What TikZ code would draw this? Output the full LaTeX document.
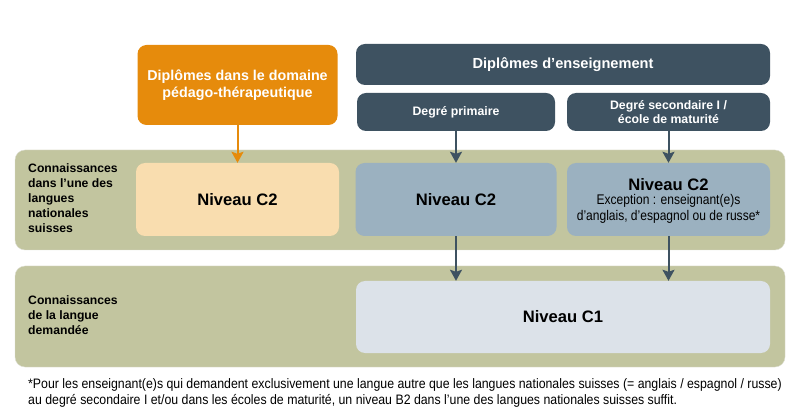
\documentclass[tikz,border=0pt]{standalone}
\usepackage{fontspec}
\setmainfont{Liberation Sans}
\newfontfamily\narrowfont[FakeStretch=0.86]{Liberation Sans}
\newfontfamily\footfont[FakeStretch=0.9]{Liberation Sans}
\usetikzlibrary{arrows.meta}

\definecolor{orangeD}{HTML}{E68B0C}
\definecolor{orangeL}{HTML}{F9DDAF}
\definecolor{slate}{HTML}{3E5261}
\definecolor{bandgreen}{HTML}{C2C59F}
\definecolor{blueM}{HTML}{9BB1C0}
\definecolor{blueL}{HTML}{DCE2E9}

\tikzset{
	box/.style={rounded corners=9pt, align=center, inner sep=0pt},
	headbox/.style={box, fill=slate, text=white, font=\bfseries\fontsize{12.3}{14.5}\selectfont},
	levelbox/.style={box, minimum height=73pt, font=\bfseries\fontsize{16.6}{18}\selectfont},
	band/.style={rounded corners=10pt, fill=bandgreen, draw=bandgreen!85!black!40!white, minimum width=770pt},
	sidelabel/.style={anchor=north west, align=left, inner sep=0pt, font=\bfseries\fontsize{12.2}{15}\selectfont},
	arr/.style={-{Stealth[width=12pt,length=11pt,inset=2pt]}, line width=2pt}
}

\begin{document}
\begin{tikzpicture}[x=1pt,y=-1pt]
	
	\useasboundingbox (0,0) rectangle (800,419);
	
	% Bands
	\node[band, minimum height=100pt] (band1) at (400,200) {};
	\node[band, minimum height=101pt] (band2) at (400,316.5) {};
	
	% Diplomas
	\node[box,
	fill=orangeD,
	text=white,
	minimum width=200pt,
	minimum height=80pt,
	font=\bfseries\fontsize{14.3}{17}\selectfont] (dipped) at (237.5,85) {Diplômes dans le domaine\\pédago-thérapeutique};
	\node[headbox, minimum width=414pt, minimum height=41pt, font=\bfseries\fontsize{14.6}{16}\selectfont] (dipens) at (563,64.5) {Diplômes d’enseignement};
	\node[headbox, minimum width=198pt, minimum height=38pt] (prim) at (456,112) {Degré primaire};
	\node[headbox, minimum width=203pt, minimum height=38pt] (sec) at (668.5,112) {Degré secondaire I /\\école de maturité};
	
	% Levels
	\node[levelbox, fill=orangeL, minimum width=203pt] (c2a) at (237.5,199.5) {Niveau C2};
	\node[levelbox, fill=blueM, minimum width=201pt] (c2b) at (456,199.5) {Niveau C2};
	\node[levelbox, fill=blueM, minimum width=203pt] (c2c) at (668.5,199.5) {};
	\node[font=\bfseries\fontsize{16.6}{18}\selectfont] (c2ctitle) at (668.5,185) {Niveau C2};
	\node[align=center, inner sep=0pt, font=\narrowfont\fontsize{14}{16}\selectfont] (c2cnote) at (668.5,208.5) {Exception : enseignant(e)s\\d’anglais, d’espagnol ou de russe*};
	\node[levelbox, fill=blueL, minimum width=414pt, minimum height=72pt] (c1) at (563,317) {Niveau C1};
	
	% Side labels
	\node[sidelabel] (lab1) at (28,163) {Connaissances\\dans l’une des\\langues\\nationales\\suisses};
	\node[sidelabel] (lab2) at (28,295) {Connaissances\\de la langue\\demandée};
	
	% Arrows
	\draw[arr, orangeD] (dipped.south) -- (c2a.north);
	\draw[arr, slate] (prim.south) -- (c2b.north);
	\draw[arr, slate] (sec.south) -- (c2c.north);
	\draw[arr, slate] (c2b.south) -- (c2b.south |- c1.north);
	\draw[arr, slate] (c2c.south) -- (c2c.south |- c1.north);
	
	% Footnote
	\node[anchor=north west, align=left, inner sep=0pt, font=\footfont\fontsize{13.7}{16}\selectfont] (foot) at (28,378) {*Pour les enseignant(e)s qui demandent exclusivement une langue autre que les langues nationales suisses (= anglais / espagnol / russe)\\au degré secondaire I et/ou dans les écoles de maturité, un niveau B2 dans l’une des langues nationales suisses suffit.};
	
\end{tikzpicture}
\end{document}
